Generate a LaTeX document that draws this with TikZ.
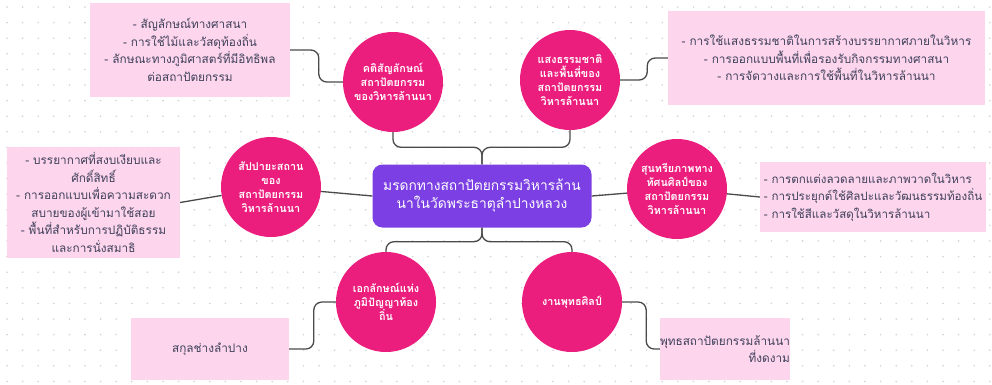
\documentclass[tikz,border=0pt]{standalone}
\usepackage{fontspec}
\setmainfont[Script=Thai]{Loma}
\usetikzlibrary{shapes.geometric}
\definecolor{bgdot}{HTML}{D2D2D8}
\definecolor{cpurple}{HTML}{7B3FE4}
\definecolor{cpink}{HTML}{EB1E7E}
\definecolor{boxpink}{HTML}{FDD6EE}
\definecolor{connc}{HTML}{4A4A4A}
\definecolor{boxtext}{HTML}{40405A}
\begin{document}
\begin{tikzpicture}[x=1pt,y=-1pt,
 hub/.style={fill=cpurple, rounded corners=10pt, minimum width=219pt, minimum height=63pt, text=white, font=\fontsize{13.8}{18}\selectfont, align=center, inner sep=2pt},
 topic/.style={circle, fill=cpink, minimum size=100pt, text=white, font=\bfseries\fontsize{10.8}{14}\selectfont, align=center, inner sep=0pt},
 note/.style={fill=boxpink, font=\fontsize{11.8}{17.5}\selectfont, text=boxtext, align=center, inner sep=0pt},
 link/.style={draw=connc, line width=1.3pt, rounded corners=8pt}]
\fill[white] (0,0) rectangle (992,384);
\useasboundingbox (0,0) rectangle (992,384);
\foreach \i in {0,...,63} \foreach \j in {0,...,24} \fill[bgdot] (\i*15.6+7,\j*15.6+7) circle (0.9);
% notes
\node[note, minimum width=200pt, minimum height=94pt] (tl) at (190,50) {- สัญลักษณ์ทางศาสนา\\- การใช้ไม้และวัสดุท้องถิ่น\\- ลักษณะทางภูมิศาสตร์ที่มีอิทธิพล\\ต่อสถาปัตยกรรม};
\node[note, minimum width=317pt, minimum height=94pt] (tr) at (826.5,58) {- การใช้แสงธรรมชาติในการสร้างบรรยากาศภายในวิหาร\\- การออกแบบพื้นที่เพื่อรองรับกิจกรรมทางศาสนา\\- การจัดวางและการใช้พื้นที่ในวิหารล้านนา};
\node[note, minimum width=173pt, minimum height=111pt] (lb) at (93.5,202.5) {- บรรยากาศที่สงบเงียบและ\\ศักดิ์สิทธิ์\\- การออกแบบเพื่อความสะดวก\\สบายของผู้เข้ามาใช้สอย\\- พื้นที่สำหรับการปฏิบัติธรรม\\และการนั่งสมาธิ};
\node[note, align=left, minimum width=226pt, minimum height=70pt, font=\fontsize{11.6}{17.5}\selectfont] (rb) at (873,197) {- การตกแต่งลวดลายและภาพวาดในวิหาร\\- การประยุกต์ใช้ศิลปะและวัฒนธรรมท้องถิ่น\\- การใช้สีและวัสดุในวิหารล้านนา};
\node[note, minimum width=158pt, minimum height=62pt] (bl) at (210,349) {สกุลช่างลำปาง};
\node[note, align=right, minimum width=120pt, minimum height=62pt] (br) at (725,349) {พุทธสถาปัตยกรรมล้านนา\\ที่งดงาม};
% hub and topics
\node[hub] (hub) at (482,196) {มรดกทางสถาปัตยกรรมวิหารล้าน\\นาในวัดพระธาตุลำปางหลวง};
\node[topic] (c1) at (393,82) {คติสัญลักษณ์\\สถาปัตยกรรม\\ของวิหารล้านนา};
\node[topic] (c2) at (570,80) {แสงธรรมชาติ\\และพื้นที่ของ\\สถาปัตยกรรม\\วิหารล้านนา};
\node[topic] (c3) at (271,187) {สัปปายะสถาน\\ของ\\สถาปัตยกรรม\\วิหารล้านนา};
\node[topic] (c4) at (677,189) {สุนทรียภาพทาง\\ทัศนศิลป์ของ\\สถาปัตยกรรม\\วิหารล้านนา};
\node[topic] (c5) at (386,302) {เอกลักษณ์แห่ง\\ภูมิปัญญาท้อง\\ถิ่น};
\node[topic] (c6) at (572,302) {งานพุทธศิลป์};
% connectors
\draw[link] (hub.north) -- ++(0,-17) -| (c1.south);
\draw[link] (hub.north) -- ++(0,-17) -| (c2.south);
\draw[link] (hub.south) -- ++(0,14) -| (c5.north);
\draw[link] (hub.south) -- ++(0,14) -| (c6.north);
\draw[link] (hub.west) -- (c3);
\draw[link] (hub.east) -- (c4);
\draw[link] (c1.west) -- ++(-24,0) |- (tl.east);
\draw[link] (c2.east) -- ++(27,0) |- (tr.west);
\draw[link] (c3) -- (lb.east);
\draw[link] (c4) -- (rb.west);
\draw[link] (c5.west) -- ++(-22,0) |- (bl.east);
\draw[link] (c6.east) -- ++(24,0) |- (br.west);
\end{tikzpicture}
\end{document}
